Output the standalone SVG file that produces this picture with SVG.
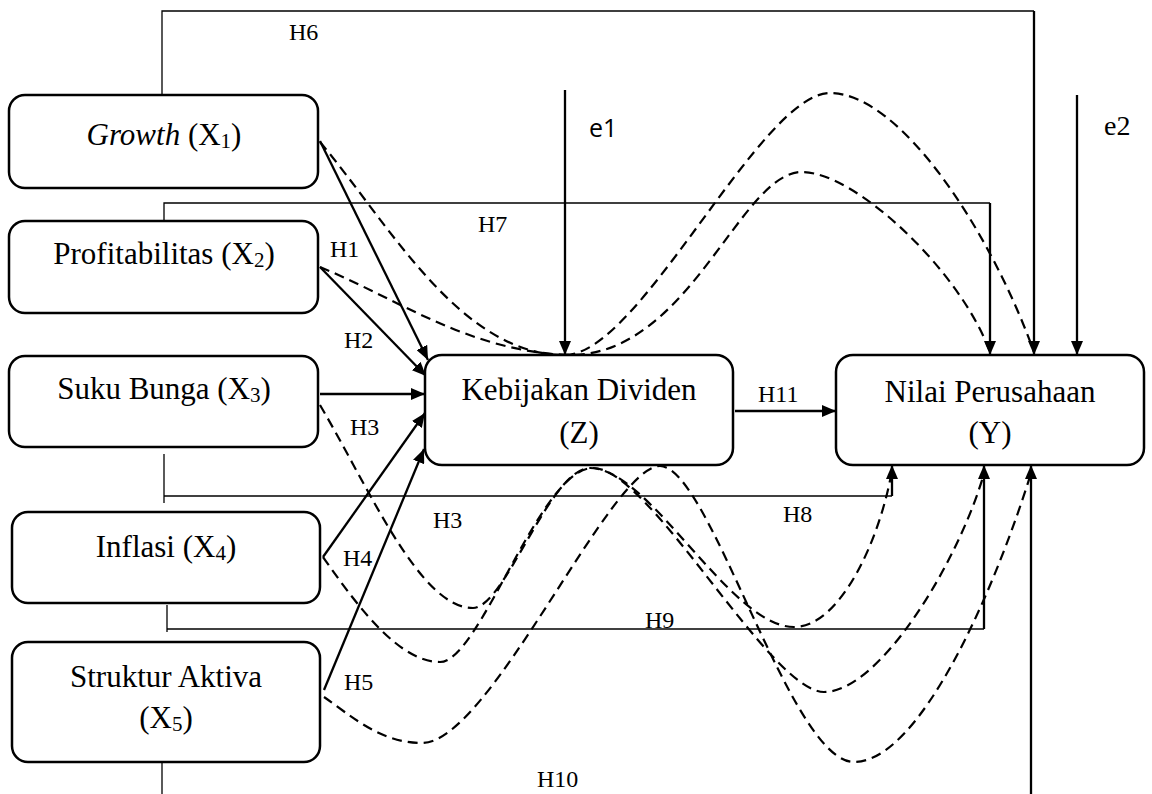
<svg xmlns="http://www.w3.org/2000/svg" width="1152" height="794" viewBox="0 0 1152 794">
<defs>
<marker id="ah" markerUnits="userSpaceOnUse" markerWidth="14" markerHeight="12" refX="14" refY="6" orient="auto">
<path d="M0,0 L14,6 L0,12 z" fill="#000"/>
</marker>
<style>
.box{fill:#fff;stroke:#000;stroke-width:2.5}
.t{font-family:"Liberation Serif","Times New Roman",serif;font-size:31px;fill:#000;text-anchor:middle}
.h{font-family:"Liberation Serif","Times New Roman",serif;font-size:24px;fill:#000}
.sub{font-size:21px}
.thin{fill:none;stroke:#000;stroke-width:1.3}
.arr{fill:none;stroke:#000;stroke-width:2.3;marker-end:url(#ah)}
.dash{fill:none;stroke:#000;stroke-width:2.2;stroke-dasharray:10 6}
</style>
</defs>
<rect width="1152" height="794" fill="#fff"/>
<g id="connectors">
<polyline class="thin" points="162,95 162,11 1034,11"/>
<line class="arr" x1="1034" y1="11" x2="1034" y2="355"/>
<polyline class="thin" points="164,221 164,203 990,203"/>
<line class="arr" x1="990" y1="203" x2="990" y2="355"/>
<line class="thin" x1="164" y1="454" x2="164" y2="503"/>
<line class="thin" x1="164" y1="496" x2="892" y2="496"/>
<line class="arr" x1="892" y1="496" x2="892" y2="465"/>
<line class="thin" x1="167" y1="605" x2="167" y2="632"/>
<line class="thin" x1="167" y1="629" x2="984" y2="629"/>
<line class="arr" x1="984" y1="629" x2="984" y2="465"/>
<line class="thin" x1="162" y1="760" x2="162" y2="794"/>
<line class="arr" x1="1031" y1="794" x2="1031" y2="465"/>
<line class="arr" x1="565" y1="90" x2="565" y2="355"/>
<line class="arr" x1="1077" y1="95" x2="1077" y2="355"/>
<line class="arr" x1="735" y1="411" x2="836" y2="411"/>
<line class="arr" x1="320" y1="141" x2="428" y2="360"/>
<line class="arr" x1="320" y1="267" x2="426" y2="376"/>
<line class="arr" x1="320" y1="394" x2="425" y2="394"/>
<line class="arr" x1="323" y1="557" x2="425" y2="413"/>
<line class="arr" x1="324" y1="690" x2="424" y2="449"/>
<path class="dash" d="M320,142 C390,225 460,355 565,355 C640,355 760,93 830,93 C900,93 990,230 1034,352"/>
<path class="dash" d="M320,267 C400,300 470,352 570,355 C690,355 740,172 802,172 C855,172 960,270 990,352"/>
<path class="dash" d="M320,405 C370,490 420,608 473,608 C505,608 550,468 590,468 C650,468 730,627 794,627 C840,627 880,540 892,470"/>
<path class="dash" d="M323,557 C360,610 400,662 440,662 C480,662 540,468 593,468 C650,468 770,692 824,692 C880,692 960,560 985,470"/>
<path class="dash" d="M324,697 C350,715 380,743 422,743 C490,743 610,466 660,466 C710,466 790,762 854,762 C920,762 995,590 1032,470"/>
<text class="h" x="289" y="40">H6</text>
<text class="h" x="478" y="232">H7</text>
<text class="h" x="330" y="257">H1</text>
<text class="h" x="344" y="348">H2</text>
<text class="h" x="350" y="435">H3</text>
<text class="h" x="433" y="528">H3</text>
<text class="h" x="343" y="566">H4</text>
<text class="h" x="344" y="690">H5</text>
<text class="h" x="537" y="787">H10</text>
<text class="h" x="783" y="522">H8</text>
<text class="h" x="645" y="628">H9</text>
<text class="h" x="758" y="402">H11</text>
<text x="589" y="137" style="font-family:'Open Sans','Noto Sans',sans-serif;font-size:25px;fill:#000">e1</text>
<text class="h" x="1104" y="135" style="font-size:28px">e2</text>
</g>
<g id="x1">
<rect class="box" x="9" y="95" width="309" height="93" rx="16"/>
<text class="t" x="164" y="145"><tspan font-style="italic">Growth</tspan> (X<tspan class="sub" dy="3">1</tspan><tspan dy="-3">)</tspan></text>
</g>
<g id="x2">
<rect class="box" x="9" y="221" width="309" height="92" rx="16"/>
<text class="t" x="164" y="264">Profitabilitas (X<tspan class="sub" dy="3">2</tspan><tspan dy="-3">)</tspan></text>
</g>
<g id="x3">
<rect class="box" x="9" y="356" width="309" height="91" rx="16"/>
<text class="t" x="164" y="399">Suku Bunga (X<tspan class="sub" dy="3">3</tspan><tspan dy="-3">)</tspan></text>
</g>
<g id="x4">
<rect class="box" x="12" y="512" width="308" height="91" rx="16"/>
<text class="t" x="166" y="557">Inflasi (X<tspan class="sub" dy="3">4</tspan><tspan dy="-3">)</tspan></text>
</g>
<g id="x5">
<rect class="box" x="12" y="642" width="308" height="120" rx="16"/>
<text class="t" x="166" y="687">Struktur Aktiva</text>
<text class="t" x="166" y="728">(X<tspan class="sub" dy="3">5</tspan><tspan dy="-3">)</tspan></text>
</g>
<g id="z">
<rect class="box" x="425" y="355" width="308" height="110" rx="17"/>
<text class="t" x="579" y="400">Kebijakan Dividen</text>
<text class="t" x="579" y="443">(Z)</text>
</g>
<g id="y">
<rect class="box" x="836" y="355" width="308" height="110" rx="17"/>
<text class="t" x="990" y="402">Nilai Perusahaan</text>
<text class="t" x="990" y="443">(Y)</text>
</g>
</svg>
